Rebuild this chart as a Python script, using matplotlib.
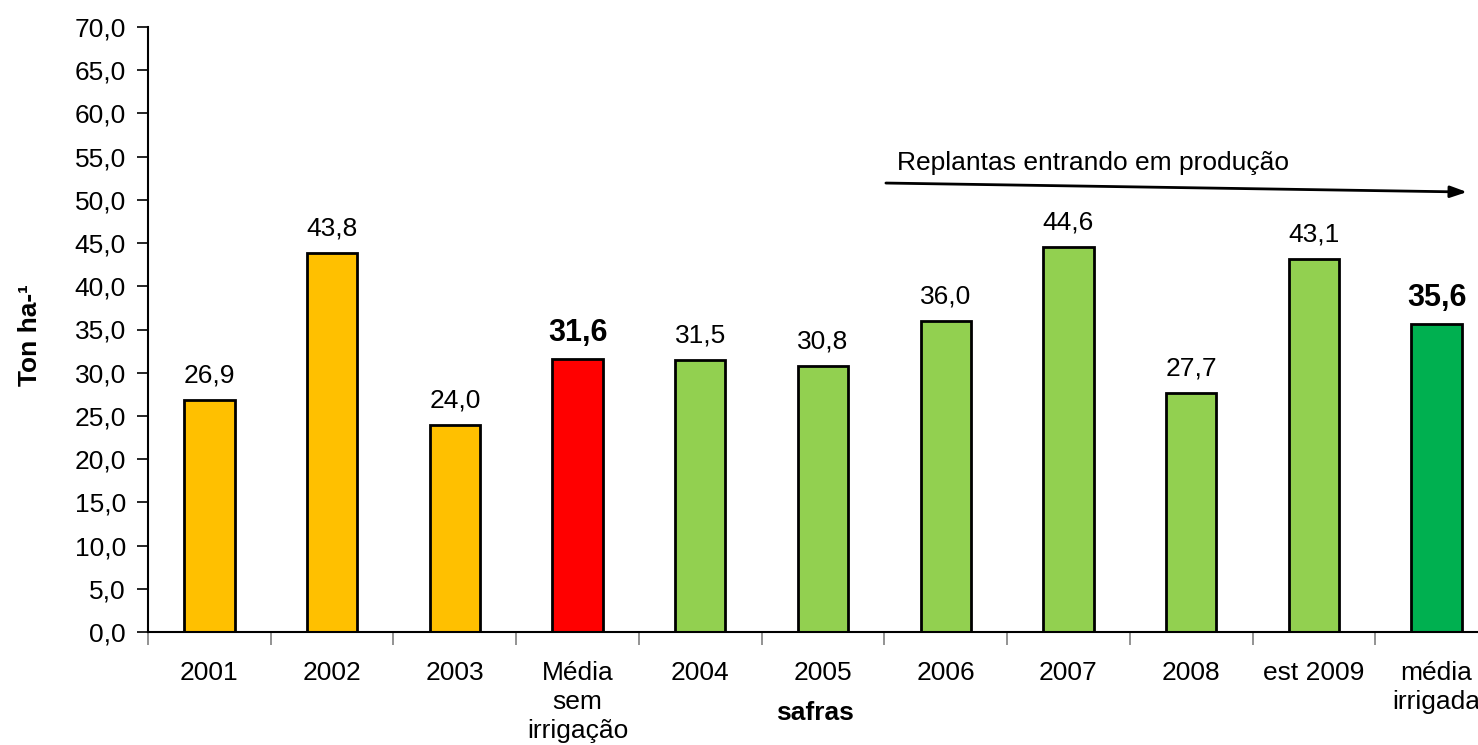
import numpy as np
import matplotlib.pyplot as plt
from matplotlib.ticker import MultipleLocator, FixedLocator, NullFormatter

plt.rcParams['font.family'] = ['Liberation Sans', 'DejaVu Sans']

# data
categories = ['2001', '2002', '2003', 'Média\nsem\nirrigação', '2004', '2005',
              '2006', '2007', '2008', 'est 2009', 'média\nirrigada']
values = [26.9, 43.8, 24.0, 31.6, 31.5, 30.8, 36.0, 44.6, 27.7, 43.1, 35.6]
colors = ['#FFC000', '#FFC000', '#FFC000', '#FF0000', '#92D050', '#92D050',
          '#92D050', '#92D050', '#92D050', '#92D050', '#00B050']
bold_idx = [3, 10]

fig = plt.figure(figsize=(14.78, 7.45), dpi=100)
ax = fig.add_axes([148 / 1478, 113 / 745, 1350 / 1478, 605 / 745])

x = np.arange(len(categories))
ax.bar(x, values, width=0.41, color=colors, edgecolor='black', linewidth=2, zorder=2)

# value labels
for i, v in enumerate(values):
    lbl = f'{v:.1f}'.replace('.', ',')
    if i in bold_idx:
        ax.annotate(lbl, (i, v), xytext=(0, 8), textcoords='offset points',
                    ha='center', va='bottom', fontsize=22, fontweight='bold')
    else:
        ax.annotate(lbl, (i, v), xytext=(0, 9), textcoords='offset points',
                    ha='center', va='bottom', fontsize=19)

ax.set_xlim(-0.5, len(categories) - 0.5)
ax.set_ylim(0, 70)
ax.yaxis.set_major_locator(MultipleLocator(5))
ax.set_yticklabels([f'{t:.1f}'.replace('.', ',') for t in ax.get_yticks()], fontsize=19)
ax.tick_params(axis='y', direction='out', length=8, width=1.2, pad=8)

# category separators as major ticks, labels on minor ticks
ax.xaxis.set_major_locator(FixedLocator(np.arange(-0.5, len(categories), 1.0)))
ax.xaxis.set_major_formatter(NullFormatter())
ax.xaxis.set_minor_locator(FixedLocator(x))
ax.set_xticklabels(categories, minor=True, fontsize=19, linespacing=1.25, va='top')
ax.tick_params(axis='x', which='major', direction='out', length=9, width=1.2, color='#808080')
ax.tick_params(axis='x', which='minor', length=0, pad=21)

for s in ['top', 'right']:
    ax.spines[s].set_visible(False)
for s in ['left', 'bottom']:
    ax.spines[s].set_linewidth(1.5)

# arrow and annotation
ax.annotate('', xy=(10.27, 50.9), xytext=(5.49, 51.95),
            arrowprops=dict(arrowstyle='-|>,head_length=1.0,head_width=0.35',
                            color='black', lw=2))
ax.text(5.60, 54.3, 'Replantas entrando em produção', fontsize=19, va='center', ha='left')

fig.text(30 / 1478, 1 - 335 / 745, 'Ton ha-¹', rotation=90, fontsize=19,
         fontweight='bold', ha='center', va='center')
fig.text(815 / 1478, 1 - 713 / 745, 'safras', fontsize=19, fontweight='bold',
         ha='center', va='center')

fig.savefig('out.png', dpi=100)
